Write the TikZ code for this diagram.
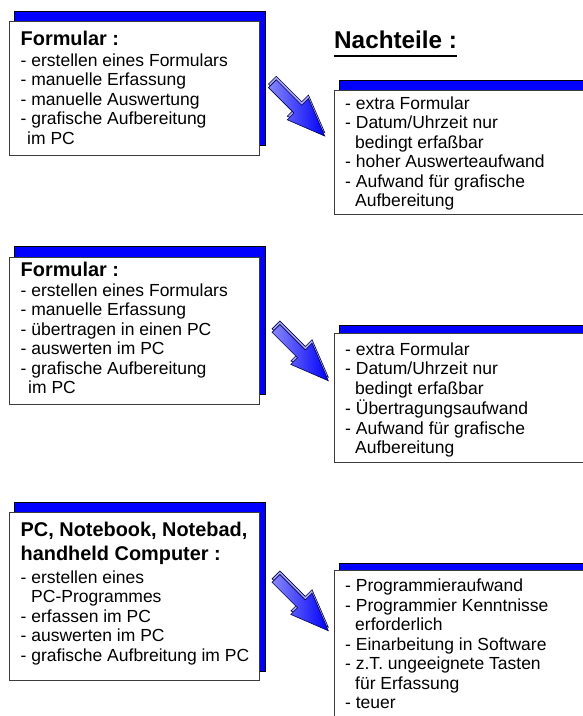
\documentclass[tikz,border=0pt]{standalone}
\usepackage{fontspec}
\setmainfont{Liberation Sans}
\definecolor{boxblue}{RGB}{0,0,255}
\definecolor{arrowlight}{RGB}{135,135,250}
\definecolor{arrowdark}{RGB}{0,0,250}
\definecolor{arrowback}{RGB}{170,170,240}
\definecolor{arrowline}{RGB}{0,0,80}
\definecolor{boxline}{RGB}{60,60,60}
\tikzset{
  shadowbox/.style={draw=black, line width=0.8pt, fill=boxblue, inner sep=0pt, outer sep=0pt, anchor=north west},
  frontbox/.style={draw=boxline, line width=0.9pt, fill=white, inner sep=0pt, outer sep=0pt, anchor=north west},
  titletext/.style={font=\fontsize{19.9}{23.3}\selectfont\bfseries, inner sep=0pt, anchor=base west},
  bodytext/.style={font=\fontsize{17.5}{19.5}\selectfont, inner sep=0pt, anchor=base west},
  headtext/.style={font=\fontsize{24.3}{28}\selectfont\bfseries, inner sep=0pt, anchor=base west},
  arrowshape/.style={draw=arrowline, line width=0.6pt},
  pics/blockarrow/.style={code={
    \path[arrowshape, fill=arrowback, shift={(-2.5,-2.5)}]
      (0,-5.5) -- (36,-5.5) -- (36,-15) -- (74,0) -- (36,15) -- (36,5.5) -- (0,5.5) -- cycle;
    \path[arrowshape, left color=arrowlight, right color=arrowdark]
      (0,-5.5) -- (36,-5.5) -- (36,-15) -- (74,0) -- (36,15) -- (36,5.5) -- (0,5.5) -- cycle;
  }},
}
\begin{document}
\begin{tikzpicture}[x=1pt,y=-1pt]
\useasboundingbox (0,0) rectangle (583,716);
\clip (0,0) rectangle (583,716);
\fill[white] (0,0) rectangle (583,716);

% heading
\node[headtext] (nt) at (334,48) {Nachteile :};
\draw[line width=2.2pt] ([yshift=-8pt]nt.base west) -- ([yshift=-8pt]nt.base east);

% ---------- row 1 ----------
\node[shadowbox, minimum width=251pt, minimum height=134pt] (s1) at (14,11) {};
\node[frontbox, minimum width=250pt, minimum height=134pt] (f1) at (9,21) {};
\node[titletext] (t1) at (20.5,45) {Formular :};
\node[bodytext] (b1) at (20.5,66) {\begin{tabular}[t]{@{}l@{}}
- erstellen eines Formulars\\
- manuelle Erfassung\\
- manuelle Auswertung\\
- grafische Aufbereitung\\
\hspace{6.5pt}im PC
\end{tabular}};

\node[shadowbox, minimum width=300pt, minimum height=60pt] (s2) at (339,80) {};
\node[frontbox, minimum width=300pt, minimum height=124pt] (f2) at (334,90) {};
\node[bodytext] (b2) at (345,109) {\begin{tabular}[t]{@{}l@{}}
- extra Formular\\
- Datum/Uhrzeit nur\\
\hspace{10pt}bedingt erfaßbar\\
- hoher Auswerteaufwand\\
- Aufwand für grafische\\
\hspace{10pt}Aufbereitung
\end{tabular}};

\pic[rotate=-45] at (272.4,83.7) {blockarrow};

% ---------- row 2 ----------
\node[shadowbox, minimum width=251pt, minimum height=148pt] (s3) at (14,246) {};
\node[frontbox, minimum width=250pt, minimum height=147pt] (f3) at (9,257) {};
\node[titletext] (t3) at (20.5,276.7) {Formular :};
\node[bodytext] (b3) at (20.5,296) {\begin{tabular}[t]{@{}l@{}}
- erstellen eines Formulars\\
- manuelle Erfassung\\
- übertragen in einen PC\\
- auswerten im PC\\
- grafische Aufbereitung\\
\hspace{7.5pt}im PC
\end{tabular}};

\node[shadowbox, minimum width=300pt, minimum height=60pt] (s4) at (339,325) {};
\node[frontbox, minimum width=300pt, minimum height=129pt] (f4) at (334,333) {};
\node[bodytext] (b4) at (345,355) {\begin{tabular}[t]{@{}l@{}}
- extra Formular\\
- Datum/Uhrzeit nur\\
\hspace{10pt}bedingt erfaßbar\\
- Übertragungsaufwand\\
- Aufwand für grafische\\
\hspace{10pt}Aufbereitung
\end{tabular}};

\pic[rotate=-45] at (276,328.4) {blockarrow};

% ---------- row 3 ----------
\node[shadowbox, minimum width=251pt, minimum height=169pt] (s5) at (14,502) {};
\node[frontbox, minimum width=250pt, minimum height=168pt] (f5) at (9,512) {};
\node[titletext] (t5) at (20.5,536.7) {\begin{tabular}[t]{@{}l@{}}
PC, Notebook, Notebad,\\
handheld Computer :
\end{tabular}};
\node[bodytext] (b5) at (20.5,583.3) {\begin{tabular}[t]{@{}l@{}}
- erstellen eines\\
\hspace{10.5pt}PC-Programmes\\
- erfassen im PC\\
- auswerten im PC\\
- grafische Aufbreitung im PC
\end{tabular}};

\node[shadowbox, minimum width=300pt, minimum height=60pt] (s6) at (339,563) {};
\node[frontbox, minimum width=300pt, minimum height=200pt] (f6) at (334,570) {};
\node[bodytext] (b6) at (345,591.7) {\begin{tabular}[t]{@{}l@{}}
- Programmieraufwand\\
- Programmier Kenntnisse\\
\hspace{10pt}erforderlich\\
- Einarbeitung in Software\\
- z.T. ungeeignete Tasten\\
\hspace{10pt}für Erfassung\\
- teuer
\end{tabular}};

\pic[rotate=-45] at (276,578.4) {blockarrow};
\end{tikzpicture}
\end{document}
